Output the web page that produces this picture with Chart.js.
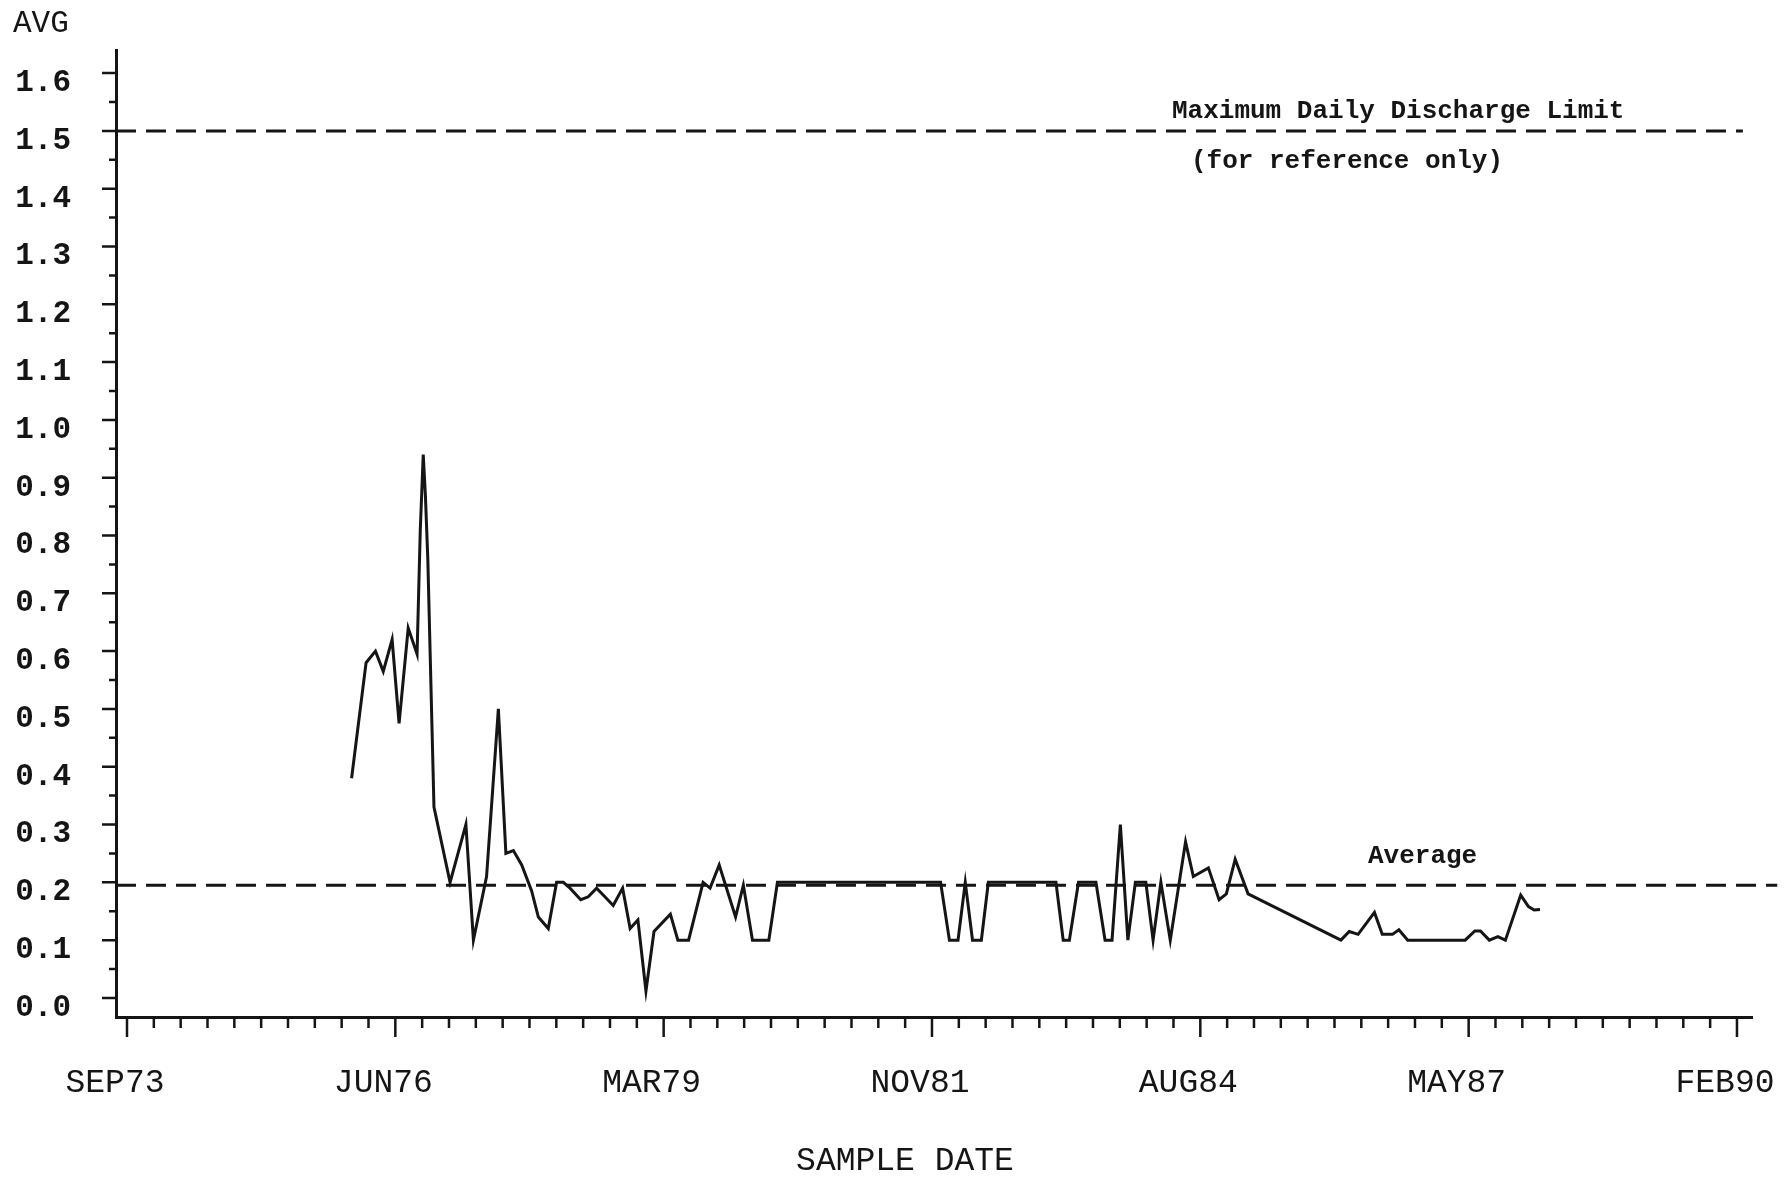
<!DOCTYPE html>
<html>
<head>
<meta charset="utf-8">
<title>AVG by sample date</title>
<script src="https://cdn.jsdelivr.net/npm/chart.js@4.4.1/dist/chart.umd.min.js"></script>
<style>
  html, body { margin: 0; padding: 0; background: #fff; }
  #wrap { width: 1786px; height: 1177px; }
</style>
</head>
<body>
<div id="wrap"><canvas id="avgChart" width="1786" height="1177"></canvas></div>
<script>
// --- Values: x = days after SEP73, y = AVG ---
const sampleDays = [
  837, 891, 926, 955, 988, 1014, 1048, 1081, 1093, 1104,
  1112, 1121, 1144, 1204, 1263, 1291, 1340, 1384, 1412, 1440,
  1471, 1508, 1533, 1570, 1601, 1626, 1651, 1691, 1719, 1750,
  1781, 1812, 1847, 1875, 1904, 1934, 1964, 2025, 2053, 2093,
  2147, 2173, 2207, 2268, 2297, 2331, 2392, 2424, 3032, 3065,
  3097, 3124, 3151, 3184, 3210, 3462, 3489, 3512, 3546, 3611,
  3645, 3671, 3702, 3730, 3758, 3797, 3824, 3853, 3888, 3945,
  3974, 4030, 4070, 4097, 4130, 4178, 4524, 4555, 4588, 4649,
  4678, 4716, 4740, 4773, 4987, 5023, 5044, 5077, 5109, 5137,
  5194, 5223, 5244, 5266
];
const avgValues = [
  0.38, 0.58, 0.60, 0.565, 0.62, 0.475, 0.64, 0.595, 0.81, 0.94,
  0.87, 0.76, 0.33, 0.20, 0.30, 0.10, 0.21, 0.50, 0.25, 0.255,
  0.23, 0.185, 0.14, 0.12, 0.20, 0.20, 0.19, 0.17, 0.175, 0.19,
  0.175, 0.16, 0.19, 0.12, 0.135, 0.012, 0.115, 0.145, 0.10, 0.10,
  0.20, 0.19, 0.23, 0.14, 0.195, 0.10, 0.10, 0.20, 0.20, 0.10,
  0.10, 0.20, 0.10, 0.10, 0.20, 0.20, 0.10, 0.10, 0.20, 0.20,
  0.10, 0.10, 0.30, 0.10, 0.20, 0.20, 0.10, 0.20, 0.10, 0.27,
  0.21, 0.225, 0.17, 0.18, 0.24, 0.18, 0.10, 0.115, 0.11, 0.148,
  0.11, 0.11, 0.118, 0.10, 0.10, 0.116, 0.116, 0.10, 0.106, 0.10,
  0.178, 0.158, 0.152, 0.153
];

// axis ticks
const xTickDays = [0, 1000, 2000, 3000, 4000, 5000, 6000];
const xTickLabels = ["SEP73", "JUN76", "MAR79", "NOV81", "AUG84", "MAY87", "FEB90"];
const yTickLabels = ["0.0", "0.1", "0.2", "0.3", "0.4", "0.5", "0.6", "0.7", "0.8",
                     "0.9", "1.0", "1.1", "1.2", "1.3", "1.4", "1.5", "1.6"];

// reference lines
const dischargeLimit = 1.5;
const overallAverage = 0.195;

const X_MIN = -41, X_MAX = 6056;
const INK = '#151515';
const plotFont = '"Liberation Mono", "DejaVu Sans Mono", monospace';

// --- Plotter-style tick marks, captions and annotation text ---
const plotterMarks = {
  id: 'plotterMarks',
  afterDraw(chart) {
    const { ctx, chartArea, scales: { x, y } } = chart;
    ctx.save();
    ctx.strokeStyle = INK;
    ctx.lineWidth = 2.5;
    ctx.beginPath();
    // y ticks stick out to the left, a short one between each labelled value
    yTickLabels.forEach((lbl, i) => {
      const v = parseFloat(lbl);
      const py = y.getPixelForValue(v);
      ctx.moveTo(chartArea.left - 14, py);
      ctx.lineTo(chartArea.left, py);
      if (i < yTickLabels.length - 1) {
        const pm = y.getPixelForValue(v + 0.05);
        ctx.moveTo(chartArea.left - 7, pm);
        ctx.lineTo(chartArea.left, pm);
      }
    });
    // x ticks hang below the axis every 100 days, long ones at the labels
    for (let d = 0; d <= 6000; d += 100) {
      const px = x.getPixelForValue(d);
      const len = d % 1000 === 0 ? 20 : 11;
      ctx.moveTo(px, chartArea.bottom);
      ctx.lineTo(px, chartArea.bottom + len);
    }
    ctx.stroke();

    ctx.fillStyle = INK;
    ctx.textBaseline = 'middle';
    ctx.font = '31px ' + plotFont;
    ctx.textAlign = 'left';
    ctx.fillText('AVG', 13, 24);
    ctx.font = '33px ' + plotFont;
    ctx.textAlign = 'center';
    ctx.fillText('SAMPLE DATE', 905, 1161);

    ctx.font = 'bold 26px ' + plotFont;
    ctx.textAlign = 'left';
    ctx.fillText('Maximum Daily Discharge Limit', 1172, 111);
    ctx.fillText('(for reference only)', 1191, 161);
    ctx.fillText('Average', 1368, 856);
    ctx.restore();
  }
};

// keep the plot box fixed: no extra room for overhanging end labels
function fixX(s) { s.height = 160; s.paddingLeft = 0; s.paddingRight = 0; }
function fixY(s) { s.width = 116; s.paddingTop = 0; s.paddingBottom = 0; }

const ctx = document.getElementById('avgChart').getContext('2d');
new Chart(ctx, {
  type: 'line',
  data: {
    datasets: [
      {
        label: 'AVG',
        data: sampleDays.map((d, i) => ({ x: d, y: avgValues[i] })),
        borderColor: INK,
        borderWidth: 3,
        pointRadius: 0,
        tension: 0,
        fill: false
      },
      {
        label: 'Maximum Daily Discharge Limit',
        data: [{ x: X_MIN, y: dischargeLimit }, { x: 6022, y: dischargeLimit }],
        borderColor: INK,
        borderWidth: 3,
        borderDash: [20, 10],
        pointRadius: 0
      },
      {
        label: 'Average',
        data: [{ x: X_MIN, y: overallAverage }, { x: 6150, y: overallAverage }],
        borderColor: INK,
        borderWidth: 3,
        borderDash: [20, 10],
        pointRadius: 0,
        clip: false
      }
    ]
  },
  options: {
    responsive: false,
    animation: false,
    devicePixelRatio: 1,
    layout: { padding: { top: 50, right: 34, left: 0, bottom: 0 } },
    plugins: { legend: { display: false }, tooltip: { enabled: false } },
    scales: {
      x: {
        type: 'linear',
        min: X_MIN,
        max: X_MAX,
        afterBuildTicks: s => { s.ticks = xTickDays.map(v => ({ value: v })); },
        afterFit: fixX,
        grid: { display: false, drawTicks: false },
        border: { display: true, color: INK, width: 3 },
        ticks: {
          autoSkip: false,
          maxRotation: 0,
          padding: 46,
          labelOffset: -12,
          color: INK,
          font: { family: plotFont, size: 33 },
          callback: (v, i) => xTickLabels[i]
        }
      },
      y: {
        type: 'linear',
        min: -0.033,
        max: 1.64,
        afterBuildTicks: s => { s.ticks = yTickLabels.map(l => ({ value: parseFloat(l) })); },
        afterFit: fixY,
        grid: { display: false, drawTicks: false },
        border: { display: true, color: INK, width: 3 },
        ticks: {
          autoSkip: false,
          padding: 45,
          labelOffset: 10,
          color: INK,
          font: { family: plotFont, size: 31, weight: 'bold' },
          callback: (v, i) => yTickLabels[i]
        }
      }
    }
  },
  plugins: [plotterMarks]
});
</script>
</body>
</html>
